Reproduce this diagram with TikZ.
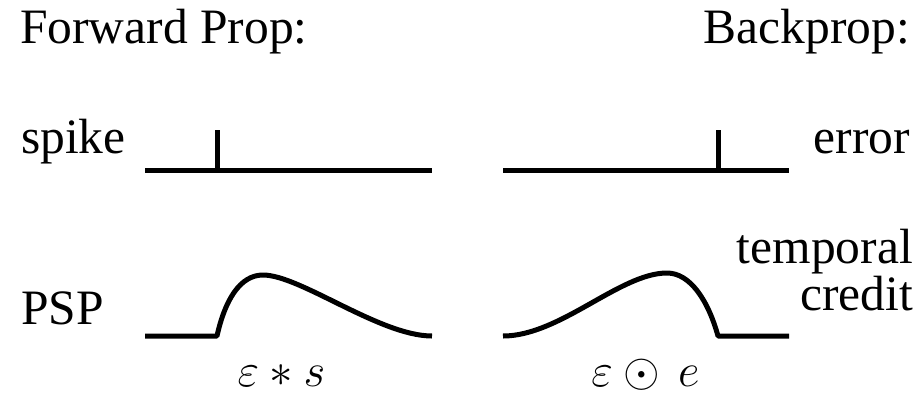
\RequirePackage{fix-cm}
\documentclass[tikz,border=0pt]{standalone}
\usepackage{fontspec}
\setmainfont{Liberation Serif}
\begin{document}
\begin{tikzpicture}[x=1pt,y=-1pt,
  lbl/.style={inner sep=0pt,font=\fontsize{49.5}{52}\selectfont},
  mth/.style={inner sep=0pt,font=\fontsize{47}{50}\selectfont},
  sig/.style={line width=5pt,line cap=butt,line join=round}]
\useasboundingbox (0,0) rectangle (922,392);
% labels
\node[lbl,anchor=base west] (fwd) at (20,43) {Forward Prop:};
\node[lbl,anchor=base east] (bwd) at (910,43) {Backprop:};
\node[lbl,anchor=base west] (spike) at (21,153) {spike};
\node[lbl,anchor=base east] (err) at (910,153) {error};
\node[lbl,anchor=base west] (psp) at (21,324) {PSP};
\node[lbl,anchor=base east] (temp) at (913,263) {temporal};
\node[lbl,anchor=base east] (cred) at (913,310) {credit};
\node[mth,anchor=base] (conv) at (281.5,386) {$\varepsilon\ast s$};
\node[mth,anchor=base] (prod) at (645.5,386) {$\varepsilon\odot\, e$};
% spike trains
\draw[sig] (145,170) -- (432,170);
\draw[sig] (217,170) -- (217,130);
\draw[sig] (503,170) -- (789,170);
\draw[sig] (718,170) -- (718,130);
% PSP
\draw[sig] (145,336) -- (217,336)
  .. controls (225,300) and (240,275) .. (263,275)
  .. controls (300,275) and (380,336) .. (432,336);
% temporal credit
\draw[sig] (503,336)
  .. controls (560,336) and (620,273) .. (667,273)
  .. controls (690,273) and (708,300) .. (718,336) -- (789,336);
\end{tikzpicture}
\end{document}
